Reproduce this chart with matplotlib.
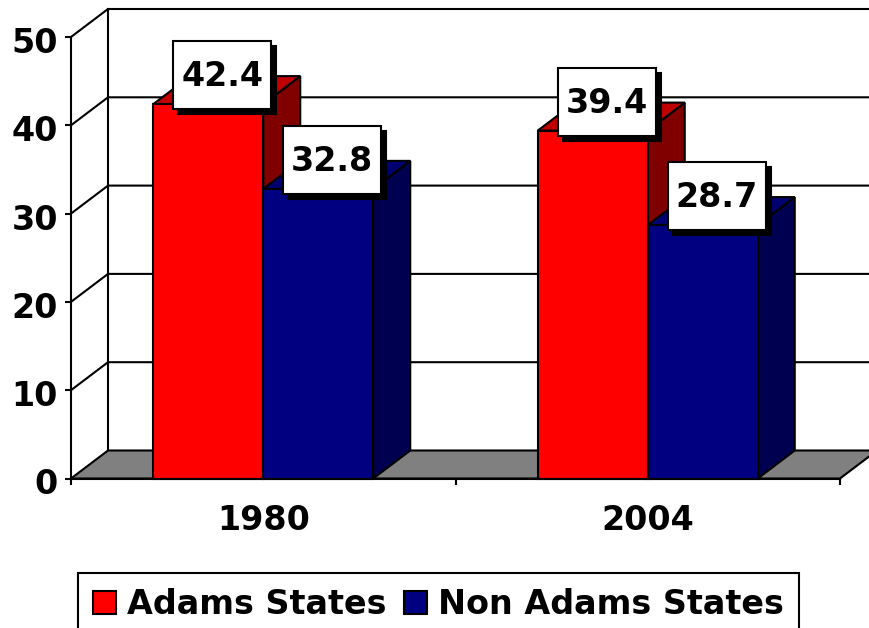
import matplotlib
matplotlib.use("Agg")
import matplotlib.pyplot as plt
from matplotlib.patches import Polygon, Rectangle, Patch
from matplotlib.transforms import ScaledTranslation, Affine2D

years = ["1980", "2004"]
series_names = ["Adams States", "Non Adams States"]
adams = [42.4, 39.4]
non_adams = [32.8, 28.7]
y_ticks = [0, 10, 20, 30, 40, 50]

W, H = 869, 628
fig = plt.figure(figsize=(W / 100, H / 100), dpi=100, facecolor="white")
L, R, B, T = 71, 840, 478.5, 37
ax = fig.add_axes([L / W, (H - B) / H, (R - L) / W, (B - T) / H])
ax.set_xlim(0, 2)
ax.set_ylim(0, 50)
ax.patch.set_visible(False)

FONT = {"family": "DejaVu Sans", "weight": "bold"}
LW = 1.5
px_x = 2 / (R - L)
px_y = 50 / (B - T)
DX = 37 * px_x
DY = 28 * px_y
BAR_W = 110 * px_x


def poly(pts, fc, z):
    ax.add_patch(Polygon(pts, closed=True, fc=fc, ec="black", lw=LW, zorder=z,
                         clip_on=False, joinstyle="miter"))


# walls and floor
poly([(0, 0), (2, 0), (2 + DX, DY), (DX, DY)], "#808080", 1)
for v in y_ticks[1:]:
    ax.plot([0, DX, 2 + DX], [v, v + DY, v + DY], color="black", lw=LW,
            zorder=0.5, clip_on=False, solid_joinstyle="miter")
ax.plot([DX, DX], [DY, 50 + DY], color="black", lw=LW, zorder=0.5, clip_on=False)


def bar3d(x0, v, front, top, side, z):
    x1 = x0 + BAR_W
    poly([(x1, 0), (x1 + DX, DY), (x1 + DX, v + DY), (x1, v)], side, z)
    poly([(x0, v), (x1, v), (x1 + DX, v + DY), (x0 + DX, v + DY)], top, z)
    poly([(x0, 0), (x1, 0), (x1, v), (x0, v)], front, z)


RED = ("#ff0000", "#c00000", "#800000")
BLUE = ("#000080", "#000070", "#000050")


def value_label(xc, v):
    tr = ScaledTranslation(xc, v, ax.transData)
    cx, cy = 14, 29
    ax.add_patch(Rectangle((cx - 49 + 5, cy - 34 - 5), 98, 68, fc="black", ec="black",
                           lw=LW, transform=tr, zorder=10, clip_on=False))
    ax.add_patch(Rectangle((cx - 49, cy - 34), 98, 68, fc="white", ec="black",
                           lw=LW, transform=tr, zorder=11, clip_on=False))
    ax.annotate(f"{v:.1f}", (xc, v), xytext=(cx, cy + 2), textcoords="offset pixels",
                ha="center", va="center_baseline", fontsize=24, zorder=12,
                annotation_clip=False, **FONT)


for i in range(len(years)):
    c = i + 0.5
    bar3d(c - BAR_W, adams[i], *RED, 3 + i * 2)
    bar3d(c, non_adams[i], *BLUE, 4 + i * 2)
    value_label(c - BAR_W / 2, adams[i])
    value_label(c + BAR_W / 2, non_adams[i])

# axes
for s in ("top", "right"):
    ax.spines[s].set_visible(False)
for s in ("left", "bottom"):
    ax.spines[s].set_linewidth(LW)
    ax.spines[s].set_zorder(9)
ax.set_yticks(y_ticks)
ax.set_yticklabels([str(v) for v in y_ticks], fontsize=24, **FONT)
ax.set_xticks([0, 1, 2])
ax.set_xticklabels([])
ax.set_xticks([i + 0.5 for i in range(len(years))], minor=True)
ax.set_xticklabels(years, minor=True, fontsize=24, **FONT)
ax.tick_params(axis="both", which="major", length=4, width=LW)
ax.tick_params(axis="y", which="major", pad=5.5)
ax.tick_params(axis="x", which="minor", length=0, pad=18)
for lab in ax.get_yticklabels():
    lab.set_transform(lab.get_transform() + Affine2D().translate(0, -3))

# legend
handles = [Patch(fc=RED[0], ec="black", lw=LW, label=series_names[0]),
           Patch(fc=BLUE[0], ec="black", lw=LW, label=series_names[1])]
leg = ax.legend(handles=handles, ncols=2, loc="upper left",
                bbox_to_anchor=(78 / W, (H - 573) / H), bbox_transform=fig.transFigure,
                borderaxespad=0, fancybox=False, framealpha=1, edgecolor="black",
                prop={"family": "DejaVu Sans", "weight": "bold", "size": 24},
                handlelength=0.7, handleheight=0.67, handletextpad=0.33,
                columnspacing=0.5, borderpad=0.45)
leg.get_frame().set_linewidth(LW)
leg.set_zorder(20)

fig.savefig("out.png", dpi=100)
